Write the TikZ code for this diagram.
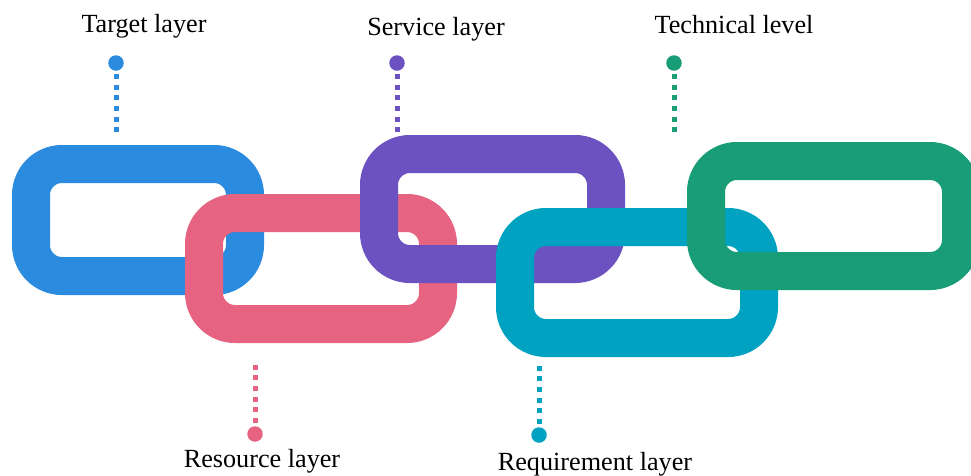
\documentclass[tikz,border=0pt]{standalone}
\usepackage{fontspec}
\setmainfont{Liberation Serif}
\definecolor{linkblue}{HTML}{2A8BDF}
\definecolor{linkpink}{HTML}{E66481}
\definecolor{linkpurple}{HTML}{6B52C0}
\definecolor{linkteal}{HTML}{00A2C2}
\definecolor{linkgreen}{HTML}{189D77}
\begin{document}
\begin{tikzpicture}[x=1pt,y=-1pt,
  link/.style={line width=38pt, rounded corners=31pt},
  pindot/.style={circle, fill=#1, inner sep=0pt, minimum size=15.5pt},
  pinline/.style={#1, line width=5pt, dash pattern=on 5pt off 5.7pt, shorten <=3pt},
  caption/.style={anchor=base, inner sep=0pt, font=\fontsize{26.2}{30}\selectfont, text=black}
]
\useasboundingbox (0,0) rectangle (971,475);
\begin{scope}
\clip (0,0) rectangle (971,475);
% chain links, each laid over the previous one
\draw[link, linkblue]   (31,164)  rectangle (245,276);
\draw[link, linkpink]   (204,213) rectangle (438,324);
\draw[link, linkpurple] (379,154) rectangle (606,264);
\draw[link, linkteal]   (515,227) rectangle (759,338);
\draw[link, linkgreen]  (706,161) rectangle (961,271);
\end{scope}

% upper markers
\node[pindot=linkblue]   (pblue)   at (116,63) {};
\node[pindot=linkpurple] (ppurple) at (397,63) {};
\node[pindot=linkgreen]  (pgreen)  at (674,63) {};
\coordinate (eblue)   at (116,132);
\coordinate (epurple) at (397,132);
\coordinate (egreen)  at (674,132);
\draw[pinline=linkblue]   (pblue)   -- (eblue);
\draw[pinline=linkpurple] (ppurple) -- (epurple);
\draw[pinline=linkgreen]  (pgreen)  -- (egreen);

% lower markers
\node[pindot=linkpink] (ppink) at (255,434) {};
\node[pindot=linkteal] (pteal) at (539,435) {};
\coordinate (epink) at (255,361);
\coordinate (eteal) at (539,362);
\draw[pinline=linkpink] (ppink) -- (epink);
\draw[pinline=linkteal] (pteal) -- (eteal);

% captions
\node[caption] (ltarget)  at (144,32)  {Target layer};
\node[caption] (lservice) at (436,35)  {Service layer};
\node[caption] (ltech)    at (734,33)  {Technical level};
\node[caption] (lres)     at (262,467) {Resource layer};
\node[caption] (lreq)     at (595,470) {Requirement layer};
\end{tikzpicture}
\end{document}
